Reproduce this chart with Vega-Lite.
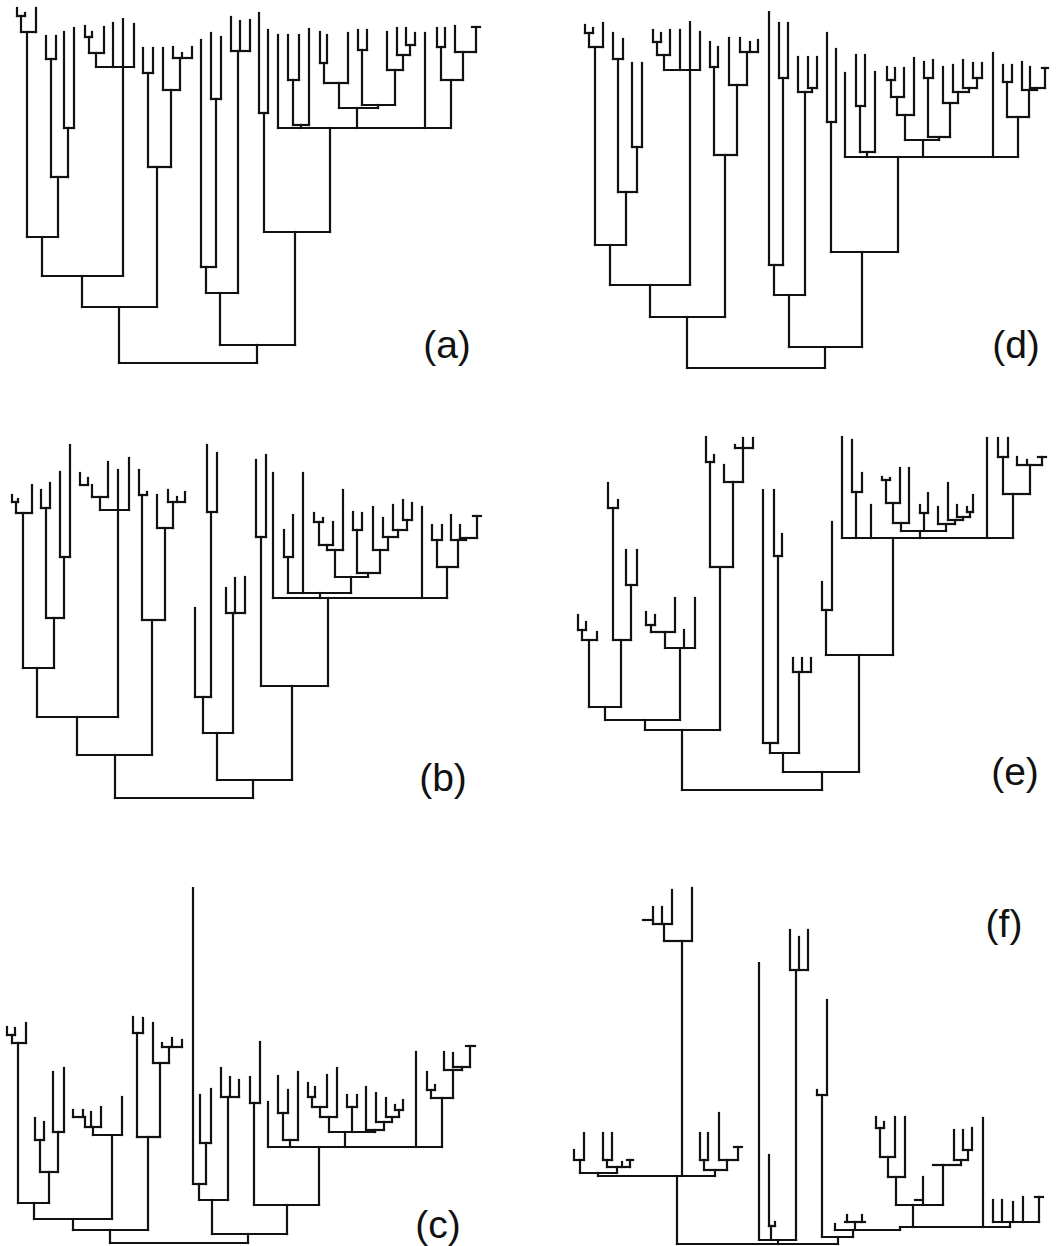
{
"$schema": "https://vega.github.io/schema/vega-lite/v6.json",
"width": 1061, "height": 1246,
"autosize": {"type": "fit", "contains": "padding"},
"padding": 0,
"background": "white",
"config": {"view": {"stroke": null}},
"datasets": {
"seg": [
{"x":17,"y":8,"x2":17,"y2":16},{"x":25,"y":13,"x2":25,"y2":16},{"x":17,"y":16,"x2":25,"y2":16},
{"x":21,"y":16,"x2":21,"y2":32},{"x":36,"y":8,"x2":36,"y2":32},{"x":21,"y":32,"x2":36,"y2":32},
{"x":27,"y":32,"x2":27,"y2":237},
{"x":46,"y":36,"x2":46,"y2":59},{"x":56,"y":36,"x2":56,"y2":59},{"x":46,"y":59,"x2":56,"y2":59},
{"x":51,"y":59,"x2":51,"y2":177},{"x":64,"y":32,"x2":64,"y2":128},{"x":74,"y":28,"x2":74,"y2":128},
{"x":64,"y":128,"x2":74,"y2":128},{"x":68,"y":128,"x2":68,"y2":177},{"x":51,"y":177,"x2":68,"y2":177},
{"x":58,"y":177,"x2":58,"y2":237},{"x":27,"y":237,"x2":58,"y2":237},{"x":42,"y":237,"x2":42,"y2":276},
{"x":85,"y":26,"x2":85,"y2":37},{"x":92,"y":32,"x2":92,"y2":37},{"x":85,"y":37,"x2":92,"y2":37},
{"x":89,"y":37,"x2":89,"y2":53},{"x":104,"y":27,"x2":104,"y2":53},{"x":89,"y":53,"x2":104,"y2":53},
{"x":96,"y":53,"x2":96,"y2":67},{"x":113,"y":23,"x2":113,"y2":67},{"x":134,"y":24,"x2":134,"y2":67},
{"x":96,"y":67,"x2":134,"y2":67},{"x":123,"y":19,"x2":123,"y2":276},{"x":42,"y":276,"x2":123,"y2":276},
{"x":82,"y":276,"x2":82,"y2":307},
{"x":143,"y":48,"x2":143,"y2":73},{"x":153,"y":48,"x2":153,"y2":73},{"x":143,"y":73,"x2":153,"y2":73},
{"x":148,"y":73,"x2":148,"y2":167},{"x":173,"y":47,"x2":173,"y2":58},{"x":182,"y":53,"x2":182,"y2":58},
{"x":192,"y":47,"x2":192,"y2":58},{"x":173,"y":58,"x2":192,"y2":58},{"x":180,"y":58,"x2":180,"y2":90},
{"x":163,"y":48,"x2":163,"y2":90},{"x":163,"y":90,"x2":180,"y2":90},{"x":171,"y":90,"x2":171,"y2":167},
{"x":148,"y":167,"x2":171,"y2":167},{"x":157,"y":167,"x2":157,"y2":307},{"x":82,"y":307,"x2":157,"y2":307},
{"x":119,"y":307,"x2":119,"y2":363},{"x":119,"y":363,"x2":257,"y2":363},{"x":257,"y":345,"x2":257,"y2":363},
{"x":201,"y":40,"x2":201,"y2":267},{"x":211,"y":33,"x2":211,"y2":99},{"x":221,"y":37,"x2":221,"y2":99},
{"x":211,"y":99,"x2":221,"y2":99},{"x":216,"y":99,"x2":216,"y2":267},{"x":201,"y":267,"x2":216,"y2":267},
{"x":206,"y":267,"x2":206,"y2":293},{"x":231,"y":17,"x2":231,"y2":51},{"x":240,"y":21,"x2":240,"y2":51},
{"x":250,"y":20,"x2":250,"y2":51},{"x":231,"y":51,"x2":250,"y2":51},{"x":238,"y":51,"x2":238,"y2":293},
{"x":206,"y":293,"x2":238,"y2":293},{"x":220,"y":293,"x2":220,"y2":345},{"x":220,"y":345,"x2":295,"y2":345},
{"x":295,"y":232,"x2":295,"y2":345},{"x":259,"y":13,"x2":259,"y2":113},{"x":268,"y":30,"x2":268,"y2":113},
{"x":259,"y":113,"x2":268,"y2":113},{"x":264,"y":113,"x2":264,"y2":232},{"x":264,"y":232,"x2":330,"y2":232},
{"x":330,"y":128,"x2":330,"y2":232},
{"x":278,"y":35,"x2":278,"y2":128},{"x":288,"y":35,"x2":288,"y2":80},{"x":299,"y":35,"x2":299,"y2":80},
{"x":288,"y":80,"x2":299,"y2":80},{"x":293,"y":80,"x2":293,"y2":125},{"x":309,"y":29,"x2":309,"y2":125},
{"x":293,"y":125,"x2":309,"y2":125},{"x":301,"y":125,"x2":301,"y2":128},
{"x":320,"y":32,"x2":320,"y2":63},{"x":327,"y":35,"x2":327,"y2":63},{"x":320,"y":63,"x2":327,"y2":63},
{"x":324,"y":63,"x2":324,"y2":83},{"x":348,"y":33,"x2":348,"y2":83},{"x":324,"y":83,"x2":348,"y2":83},
{"x":339,"y":83,"x2":339,"y2":108},{"x":358,"y":30,"x2":358,"y2":50},{"x":367,"y":30,"x2":367,"y2":50},
{"x":358,"y":50,"x2":367,"y2":50},{"x":362,"y":50,"x2":362,"y2":105},
{"x":406,"y":28,"x2":406,"y2":45},{"x":415,"y":33,"x2":415,"y2":45},{"x":406,"y":45,"x2":415,"y2":45},
{"x":410,"y":45,"x2":410,"y2":55},{"x":397,"y":28,"x2":397,"y2":55},{"x":397,"y":55,"x2":410,"y2":55},
{"x":403,"y":55,"x2":403,"y2":70},{"x":387,"y":32,"x2":387,"y2":70},{"x":387,"y":70,"x2":403,"y2":70},
{"x":395,"y":70,"x2":395,"y2":105},{"x":362,"y":105,"x2":395,"y2":105},{"x":378,"y":105,"x2":378,"y2":108},
{"x":339,"y":108,"x2":378,"y2":108},{"x":357,"y":108,"x2":357,"y2":128},
{"x":425,"y":33,"x2":425,"y2":128},{"x":437,"y":28,"x2":437,"y2":47},{"x":445,"y":28,"x2":445,"y2":47},
{"x":437,"y":47,"x2":445,"y2":47},{"x":441,"y":47,"x2":441,"y2":80},{"x":455,"y":26,"x2":455,"y2":52},
{"x":476,"y":27,"x2":476,"y2":52},{"x":472,"y":27,"x2":480,"y2":27},{"x":455,"y":52,"x2":476,"y2":52},
{"x":463,"y":52,"x2":463,"y2":80},{"x":441,"y":80,"x2":463,"y2":80},{"x":451,"y":80,"x2":451,"y2":128},
{"x":278,"y":128,"x2":451,"y2":128},

{"x":585,"y":25,"x2":585,"y2":33},{"x":593,"y":28,"x2":593,"y2":33},{"x":585,"y":33,"x2":593,"y2":33},
{"x":589,"y":33,"x2":589,"y2":47},{"x":603,"y":23,"x2":603,"y2":47},{"x":589,"y":47,"x2":603,"y2":47},
{"x":595,"y":47,"x2":595,"y2":245},{"x":613,"y":33,"x2":613,"y2":59},{"x":623,"y":39,"x2":623,"y2":59},
{"x":613,"y":59,"x2":623,"y2":59},{"x":618,"y":59,"x2":618,"y2":192},{"x":632,"y":63,"x2":632,"y2":147},
{"x":642,"y":63,"x2":642,"y2":147},{"x":632,"y":147,"x2":642,"y2":147},{"x":637,"y":147,"x2":637,"y2":192},
{"x":618,"y":192,"x2":637,"y2":192},{"x":626,"y":192,"x2":626,"y2":245},{"x":595,"y":245,"x2":626,"y2":245},
{"x":610,"y":245,"x2":610,"y2":285},
{"x":653,"y":30,"x2":653,"y2":42},{"x":661,"y":33,"x2":661,"y2":42},{"x":653,"y":42,"x2":661,"y2":42},
{"x":657,"y":42,"x2":657,"y2":55},{"x":670,"y":30,"x2":670,"y2":55},{"x":657,"y":55,"x2":670,"y2":55},
{"x":664,"y":55,"x2":664,"y2":70},{"x":680,"y":30,"x2":680,"y2":70},{"x":700,"y":32,"x2":700,"y2":70},
{"x":664,"y":70,"x2":700,"y2":70},{"x":690,"y":22,"x2":690,"y2":285},{"x":610,"y":285,"x2":690,"y2":285},
{"x":650,"y":285,"x2":650,"y2":317},
{"x":710,"y":42,"x2":710,"y2":67},{"x":718,"y":47,"x2":718,"y2":67},{"x":710,"y":67,"x2":718,"y2":67},
{"x":714,"y":67,"x2":714,"y2":155},{"x":740,"y":38,"x2":740,"y2":52},{"x":750,"y":42,"x2":750,"y2":52},
{"x":758,"y":40,"x2":758,"y2":52},{"x":740,"y":52,"x2":758,"y2":52},{"x":747,"y":52,"x2":747,"y2":85},
{"x":729,"y":38,"x2":729,"y2":85},{"x":729,"y":85,"x2":747,"y2":85},{"x":737,"y":85,"x2":737,"y2":155},
{"x":714,"y":155,"x2":737,"y2":155},{"x":725,"y":155,"x2":725,"y2":317},{"x":650,"y":317,"x2":725,"y2":317},
{"x":687,"y":317,"x2":687,"y2":368},{"x":687,"y":368,"x2":825,"y2":368},{"x":825,"y":347,"x2":825,"y2":368},
{"x":769,"y":12,"x2":769,"y2":265},{"x":779,"y":23,"x2":779,"y2":78},{"x":788,"y":23,"x2":788,"y2":78},
{"x":779,"y":78,"x2":788,"y2":78},{"x":783,"y":78,"x2":783,"y2":265},{"x":769,"y":265,"x2":783,"y2":265},
{"x":774,"y":265,"x2":774,"y2":295},{"x":798,"y":57,"x2":798,"y2":92},{"x":808,"y":57,"x2":808,"y2":88},
{"x":817,"y":57,"x2":817,"y2":88},{"x":808,"y":88,"x2":817,"y2":88},{"x":812,"y":88,"x2":812,"y2":92},
{"x":798,"y":92,"x2":812,"y2":92},{"x":805,"y":92,"x2":805,"y2":295},{"x":774,"y":295,"x2":805,"y2":295},
{"x":789,"y":295,"x2":789,"y2":347},{"x":789,"y":347,"x2":862,"y2":347},{"x":862,"y":252,"x2":862,"y2":347},
{"x":827,"y":33,"x2":827,"y2":122},{"x":836,"y":49,"x2":836,"y2":122},{"x":827,"y":122,"x2":836,"y2":122},
{"x":831,"y":122,"x2":831,"y2":252},{"x":831,"y":252,"x2":898,"y2":252},{"x":898,"y":157,"x2":898,"y2":252},
{"x":845,"y":73,"x2":845,"y2":157},{"x":856,"y":55,"x2":856,"y2":106},{"x":865,"y":55,"x2":865,"y2":106},
{"x":856,"y":106,"x2":865,"y2":106},{"x":860,"y":106,"x2":860,"y2":152},{"x":875,"y":72,"x2":875,"y2":152},
{"x":860,"y":152,"x2":875,"y2":152},{"x":867,"y":152,"x2":867,"y2":157},
{"x":887,"y":67,"x2":887,"y2":80},{"x":895,"y":68,"x2":895,"y2":80},{"x":887,"y":80,"x2":895,"y2":80},
{"x":891,"y":80,"x2":891,"y2":97},{"x":904,"y":68,"x2":904,"y2":97},{"x":891,"y":97,"x2":904,"y2":97},
{"x":897,"y":97,"x2":897,"y2":115},{"x":914,"y":58,"x2":914,"y2":115},{"x":897,"y":115,"x2":914,"y2":115},
{"x":905,"y":115,"x2":905,"y2":140},{"x":924,"y":62,"x2":924,"y2":78},{"x":933,"y":60,"x2":933,"y2":78},
{"x":924,"y":78,"x2":933,"y2":78},{"x":928,"y":78,"x2":928,"y2":137},
{"x":973,"y":63,"x2":973,"y2":78},{"x":982,"y":63,"x2":982,"y2":78},{"x":973,"y":78,"x2":982,"y2":78},
{"x":977,"y":78,"x2":977,"y2":88},{"x":963,"y":60,"x2":963,"y2":88},{"x":963,"y":88,"x2":977,"y2":88},
{"x":969,"y":88,"x2":969,"y2":92},{"x":953,"y":65,"x2":953,"y2":92},{"x":953,"y":92,"x2":969,"y2":92},
{"x":958,"y":92,"x2":958,"y2":103},{"x":943,"y":67,"x2":943,"y2":103},{"x":943,"y":103,"x2":958,"y2":103},
{"x":950,"y":103,"x2":950,"y2":137},{"x":928,"y":137,"x2":950,"y2":137},{"x":939,"y":137,"x2":939,"y2":140},
{"x":905,"y":140,"x2":939,"y2":140},{"x":923,"y":140,"x2":923,"y2":157},
{"x":993,"y":53,"x2":993,"y2":157},{"x":1003,"y":65,"x2":1003,"y2":82},{"x":1012,"y":65,"x2":1012,"y2":82},
{"x":1003,"y":82,"x2":1012,"y2":82},{"x":1007,"y":82,"x2":1007,"y2":117},{"x":1022,"y":62,"x2":1022,"y2":90},
{"x":1030,"y":67,"x2":1030,"y2":88},{"x":1045,"y":68,"x2":1045,"y2":88},{"x":1042,"y":68,"x2":1048,"y2":68},
{"x":1030,"y":88,"x2":1045,"y2":88},{"x":1037,"y":88,"x2":1037,"y2":90},{"x":1022,"y":90,"x2":1037,"y2":90},
{"x":1029,"y":90,"x2":1029,"y2":117},{"x":1007,"y":117,"x2":1029,"y2":117},{"x":1018,"y":117,"x2":1018,"y2":157},
{"x":845,"y":157,"x2":1018,"y2":157},

{"x":12,"y":495,"x2":12,"y2":502},{"x":18,"y":499,"x2":18,"y2":502},{"x":12,"y":502,"x2":18,"y2":502},
{"x":16,"y":502,"x2":16,"y2":513},{"x":32,"y":485,"x2":32,"y2":513},{"x":16,"y":513,"x2":32,"y2":513},
{"x":23,"y":513,"x2":23,"y2":668},{"x":41,"y":490,"x2":41,"y2":508},{"x":50,"y":483,"x2":50,"y2":508},
{"x":41,"y":508,"x2":50,"y2":508},{"x":46,"y":508,"x2":46,"y2":618},{"x":60,"y":472,"x2":60,"y2":557},
{"x":70,"y":445,"x2":70,"y2":557},{"x":60,"y":557,"x2":70,"y2":557},{"x":64,"y":557,"x2":64,"y2":618},
{"x":46,"y":618,"x2":64,"y2":618},{"x":54,"y":618,"x2":54,"y2":668},{"x":23,"y":668,"x2":54,"y2":668},
{"x":37,"y":668,"x2":37,"y2":717},
{"x":80,"y":473,"x2":80,"y2":485},{"x":88,"y":478,"x2":88,"y2":485},{"x":80,"y":485,"x2":88,"y2":485},
{"x":92,"y":485,"x2":92,"y2":497},{"x":108,"y":462,"x2":108,"y2":497},{"x":92,"y":497,"x2":108,"y2":497},
{"x":100,"y":497,"x2":100,"y2":510},{"x":118,"y":470,"x2":118,"y2":717},{"x":129,"y":458,"x2":129,"y2":510},
{"x":100,"y":510,"x2":129,"y2":510},{"x":37,"y":717,"x2":118,"y2":717},{"x":77,"y":717,"x2":77,"y2":755},
{"x":139,"y":470,"x2":139,"y2":495},{"x":147,"y":492,"x2":147,"y2":495},{"x":139,"y":495,"x2":147,"y2":495},
{"x":142,"y":495,"x2":142,"y2":620},{"x":157,"y":495,"x2":157,"y2":528},{"x":168,"y":490,"x2":168,"y2":502},
{"x":177,"y":497,"x2":177,"y2":502},{"x":185,"y":492,"x2":185,"y2":502},{"x":168,"y":502,"x2":185,"y2":502},
{"x":173,"y":502,"x2":173,"y2":528},{"x":157,"y":528,"x2":173,"y2":528},{"x":165,"y":528,"x2":165,"y2":620},
{"x":142,"y":620,"x2":165,"y2":620},{"x":152,"y":620,"x2":152,"y2":755},{"x":77,"y":755,"x2":152,"y2":755},
{"x":115,"y":755,"x2":115,"y2":798},{"x":115,"y":798,"x2":253,"y2":798},{"x":253,"y":780,"x2":253,"y2":798},
{"x":195,"y":608,"x2":195,"y2":697},{"x":207,"y":445,"x2":207,"y2":512},{"x":217,"y":453,"x2":217,"y2":512},
{"x":207,"y":512,"x2":217,"y2":512},{"x":211,"y":512,"x2":211,"y2":697},{"x":195,"y":697,"x2":211,"y2":697},
{"x":203,"y":697,"x2":203,"y2":733},{"x":226,"y":588,"x2":226,"y2":613},{"x":235,"y":578,"x2":235,"y2":613},
{"x":245,"y":577,"x2":245,"y2":613},{"x":226,"y":613,"x2":245,"y2":613},{"x":233,"y":613,"x2":233,"y2":733},
{"x":203,"y":733,"x2":233,"y2":733},{"x":217,"y":733,"x2":217,"y2":780},{"x":217,"y":780,"x2":292,"y2":780},
{"x":292,"y":686,"x2":292,"y2":780},{"x":256,"y":460,"x2":256,"y2":537},{"x":266,"y":455,"x2":266,"y2":537},
{"x":256,"y":537,"x2":266,"y2":537},{"x":261,"y":537,"x2":261,"y2":686},{"x":261,"y":686,"x2":328,"y2":686},
{"x":328,"y":598,"x2":328,"y2":686},
{"x":273,"y":473,"x2":273,"y2":598},{"x":284,"y":530,"x2":284,"y2":557},{"x":293,"y":515,"x2":293,"y2":557},
{"x":284,"y":557,"x2":293,"y2":557},{"x":288,"y":557,"x2":288,"y2":593},{"x":303,"y":473,"x2":303,"y2":593},
{"x":314,"y":513,"x2":314,"y2":522},{"x":323,"y":518,"x2":323,"y2":522},{"x":314,"y":522,"x2":323,"y2":522},
{"x":319,"y":522,"x2":319,"y2":545},{"x":333,"y":522,"x2":333,"y2":545},{"x":319,"y":545,"x2":333,"y2":545},
{"x":327,"y":545,"x2":327,"y2":550},{"x":343,"y":490,"x2":343,"y2":550},{"x":327,"y":550,"x2":343,"y2":550},
{"x":335,"y":550,"x2":335,"y2":577},{"x":353,"y":512,"x2":353,"y2":530},{"x":362,"y":513,"x2":362,"y2":530},
{"x":353,"y":530,"x2":362,"y2":530},{"x":357,"y":530,"x2":357,"y2":573},
{"x":403,"y":500,"x2":403,"y2":520},{"x":412,"y":503,"x2":412,"y2":520},{"x":403,"y":520,"x2":412,"y2":520},
{"x":407,"y":520,"x2":407,"y2":530},{"x":393,"y":505,"x2":393,"y2":530},{"x":393,"y":530,"x2":407,"y2":530},
{"x":398,"y":530,"x2":398,"y2":537},{"x":383,"y":518,"x2":383,"y2":537},{"x":383,"y":537,"x2":398,"y2":537},
{"x":388,"y":537,"x2":388,"y2":550},{"x":373,"y":507,"x2":373,"y2":550},{"x":373,"y":550,"x2":388,"y2":550},
{"x":380,"y":550,"x2":380,"y2":573},{"x":357,"y":573,"x2":380,"y2":573},{"x":368,"y":573,"x2":368,"y2":577},
{"x":335,"y":577,"x2":368,"y2":577},{"x":351,"y":577,"x2":351,"y2":593},{"x":288,"y":593,"x2":351,"y2":593},
{"x":320,"y":593,"x2":320,"y2":598},
{"x":422,"y":507,"x2":422,"y2":598},{"x":432,"y":525,"x2":432,"y2":540},{"x":442,"y":525,"x2":442,"y2":540},
{"x":432,"y":540,"x2":442,"y2":540},{"x":437,"y":540,"x2":437,"y2":567},{"x":451,"y":515,"x2":451,"y2":540},
{"x":460,"y":525,"x2":460,"y2":538},{"x":477,"y":516,"x2":477,"y2":538},{"x":473,"y":516,"x2":481,"y2":516},
{"x":460,"y":538,"x2":477,"y2":538},{"x":466,"y":538,"x2":466,"y2":540},{"x":451,"y":540,"x2":466,"y2":540},
{"x":458,"y":540,"x2":458,"y2":567},{"x":437,"y":567,"x2":458,"y2":567},{"x":447,"y":567,"x2":447,"y2":598},
{"x":273,"y":598,"x2":447,"y2":598},

{"x":578,"y":615,"x2":578,"y2":630},{"x":586,"y":622,"x2":586,"y2":630},{"x":578,"y":630,"x2":586,"y2":630},
{"x":582,"y":630,"x2":582,"y2":640},{"x":597,"y":632,"x2":597,"y2":640},{"x":582,"y":640,"x2":597,"y2":640},
{"x":589,"y":640,"x2":589,"y2":707},{"x":608,"y":483,"x2":608,"y2":508},{"x":618,"y":500,"x2":618,"y2":508},
{"x":608,"y":508,"x2":618,"y2":508},{"x":613,"y":508,"x2":613,"y2":640},{"x":626,"y":550,"x2":626,"y2":585},
{"x":637,"y":550,"x2":637,"y2":585},{"x":626,"y":585,"x2":637,"y2":585},{"x":631,"y":585,"x2":631,"y2":640},
{"x":613,"y":640,"x2":631,"y2":640},{"x":621,"y":640,"x2":621,"y2":707},{"x":589,"y":707,"x2":621,"y2":707},
{"x":605,"y":707,"x2":605,"y2":720},
{"x":646,"y":612,"x2":646,"y2":625},{"x":655,"y":615,"x2":655,"y2":625},{"x":646,"y":625,"x2":655,"y2":625},
{"x":651,"y":625,"x2":651,"y2":632},{"x":675,"y":598,"x2":675,"y2":632},{"x":651,"y":632,"x2":675,"y2":632},
{"x":665,"y":632,"x2":665,"y2":648},{"x":684,"y":630,"x2":684,"y2":648},{"x":695,"y":598,"x2":695,"y2":648},
{"x":665,"y":648,"x2":695,"y2":648},{"x":680,"y":648,"x2":680,"y2":720},{"x":605,"y":720,"x2":680,"y2":720},
{"x":645,"y":720,"x2":645,"y2":730},
{"x":706,"y":437,"x2":706,"y2":462},{"x":714,"y":455,"x2":714,"y2":462},{"x":706,"y":462,"x2":714,"y2":462},
{"x":710,"y":462,"x2":710,"y2":567},{"x":735,"y":445,"x2":735,"y2":448},{"x":743,"y":438,"x2":743,"y2":448},
{"x":753,"y":438,"x2":753,"y2":448},{"x":735,"y":448,"x2":753,"y2":448},{"x":743,"y":448,"x2":743,"y2":482},
{"x":724,"y":465,"x2":724,"y2":482},{"x":724,"y":482,"x2":743,"y2":482},{"x":733,"y":482,"x2":733,"y2":567},
{"x":710,"y":567,"x2":733,"y2":567},{"x":720,"y":567,"x2":720,"y2":730},{"x":645,"y":730,"x2":720,"y2":730},
{"x":682,"y":730,"x2":682,"y2":790},{"x":682,"y":790,"x2":822,"y2":790},{"x":822,"y":772,"x2":822,"y2":790},
{"x":763,"y":490,"x2":763,"y2":743},{"x":774,"y":490,"x2":774,"y2":556},{"x":782,"y":534,"x2":782,"y2":556},
{"x":774,"y":556,"x2":782,"y2":556},{"x":778,"y":556,"x2":778,"y2":743},{"x":763,"y":743,"x2":778,"y2":743},
{"x":770,"y":743,"x2":770,"y2":753},{"x":793,"y":658,"x2":793,"y2":672},{"x":802,"y":658,"x2":802,"y2":672},
{"x":811,"y":658,"x2":811,"y2":672},{"x":793,"y":672,"x2":811,"y2":672},{"x":799,"y":672,"x2":799,"y2":753},
{"x":770,"y":753,"x2":799,"y2":753},{"x":783,"y":753,"x2":783,"y2":772},{"x":783,"y":772,"x2":859,"y2":772},
{"x":859,"y":655,"x2":859,"y2":772},{"x":822,"y":582,"x2":822,"y2":610},{"x":832,"y":522,"x2":832,"y2":610},
{"x":822,"y":610,"x2":832,"y2":610},{"x":826,"y":610,"x2":826,"y2":655},{"x":826,"y":655,"x2":893,"y2":655},
{"x":893,"y":538,"x2":893,"y2":655},
{"x":842,"y":437,"x2":842,"y2":538},{"x":852,"y":440,"x2":852,"y2":492},{"x":862,"y":473,"x2":862,"y2":492},
{"x":852,"y":492,"x2":862,"y2":492},{"x":856,"y":492,"x2":856,"y2":538},{"x":871,"y":505,"x2":871,"y2":538},
{"x":882,"y":477,"x2":882,"y2":480},{"x":890,"y":478,"x2":890,"y2":480},{"x":882,"y":480,"x2":890,"y2":480},
{"x":886,"y":480,"x2":886,"y2":503},{"x":900,"y":468,"x2":900,"y2":503},{"x":886,"y":503,"x2":900,"y2":503},
{"x":893,"y":503,"x2":893,"y2":523},{"x":909,"y":468,"x2":909,"y2":523},{"x":893,"y":523,"x2":909,"y2":523},
{"x":901,"y":523,"x2":901,"y2":531},{"x":920,"y":505,"x2":920,"y2":513},{"x":928,"y":493,"x2":928,"y2":513},
{"x":920,"y":513,"x2":928,"y2":513},{"x":924,"y":513,"x2":924,"y2":531},
{"x":967,"y":507,"x2":967,"y2":512},{"x":973,"y":495,"x2":973,"y2":512},{"x":967,"y":512,"x2":973,"y2":512},
{"x":970,"y":512,"x2":970,"y2":517},{"x":957,"y":505,"x2":957,"y2":517},{"x":957,"y":517,"x2":970,"y2":517},
{"x":963,"y":517,"x2":963,"y2":520},{"x":948,"y":483,"x2":948,"y2":520},{"x":948,"y":520,"x2":963,"y2":520},
{"x":955,"y":520,"x2":955,"y2":524},{"x":938,"y":507,"x2":938,"y2":524},{"x":938,"y":524,"x2":955,"y2":524},
{"x":946,"y":524,"x2":946,"y2":531},{"x":901,"y":531,"x2":946,"y2":531},{"x":920,"y":531,"x2":920,"y2":538},
{"x":987,"y":438,"x2":987,"y2":538},{"x":998,"y":438,"x2":998,"y2":457},{"x":1008,"y":438,"x2":1008,"y2":457},
{"x":998,"y":457,"x2":1008,"y2":457},{"x":1003,"y":457,"x2":1003,"y2":494},{"x":1017,"y":457,"x2":1017,"y2":465},
{"x":1027,"y":460,"x2":1027,"y2":465},{"x":1042,"y":457,"x2":1042,"y2":465},{"x":1038,"y":457,"x2":1046,"y2":457},
{"x":1017,"y":465,"x2":1042,"y2":465},{"x":1030,"y":465,"x2":1030,"y2":494},{"x":1003,"y":494,"x2":1030,"y2":494},
{"x":1013,"y":494,"x2":1013,"y2":538},{"x":842,"y":538,"x2":1013,"y2":538},

{"x":7,"y":1027,"x2":7,"y2":1035},{"x":15,"y":1028,"x2":15,"y2":1035},{"x":7,"y":1035,"x2":15,"y2":1035},
{"x":12,"y":1035,"x2":12,"y2":1043},{"x":26,"y":1023,"x2":26,"y2":1043},{"x":12,"y":1043,"x2":26,"y2":1043},
{"x":18,"y":1043,"x2":18,"y2":1203},{"x":35,"y":1118,"x2":35,"y2":1140},{"x":44,"y":1122,"x2":44,"y2":1140},
{"x":35,"y":1140,"x2":44,"y2":1140},{"x":40,"y":1140,"x2":40,"y2":1172},{"x":53,"y":1072,"x2":53,"y2":1132},
{"x":64,"y":1068,"x2":64,"y2":1132},{"x":53,"y":1132,"x2":64,"y2":1132},{"x":58,"y":1132,"x2":58,"y2":1172},
{"x":40,"y":1172,"x2":58,"y2":1172},{"x":49,"y":1172,"x2":49,"y2":1203},{"x":18,"y":1203,"x2":49,"y2":1203},
{"x":34,"y":1203,"x2":34,"y2":1219},
{"x":73,"y":1110,"x2":73,"y2":1117},{"x":83,"y":1110,"x2":83,"y2":1117},{"x":73,"y":1117,"x2":85,"y2":1117},
{"x":85,"y":1117,"x2":85,"y2":1127},{"x":91,"y":1112,"x2":91,"y2":1127},{"x":101,"y":1107,"x2":101,"y2":1127},
{"x":85,"y":1127,"x2":101,"y2":1127},{"x":93,"y":1127,"x2":93,"y2":1135},{"x":122,"y":1097,"x2":122,"y2":1135},
{"x":93,"y":1135,"x2":122,"y2":1135},{"x":112,"y":1135,"x2":112,"y2":1219},{"x":34,"y":1219,"x2":112,"y2":1219},
{"x":73,"y":1219,"x2":73,"y2":1230},
{"x":133,"y":1017,"x2":133,"y2":1033},{"x":143,"y":1018,"x2":143,"y2":1033},{"x":133,"y":1033,"x2":143,"y2":1033},
{"x":137,"y":1033,"x2":137,"y2":1137},{"x":153,"y":1023,"x2":153,"y2":1063},{"x":162,"y":1043,"x2":162,"y2":1047},
{"x":172,"y":1038,"x2":172,"y2":1047},{"x":182,"y":1040,"x2":182,"y2":1047},{"x":162,"y":1047,"x2":182,"y2":1047},
{"x":169,"y":1047,"x2":169,"y2":1063},{"x":153,"y":1063,"x2":169,"y2":1063},{"x":160,"y":1063,"x2":160,"y2":1137},
{"x":137,"y":1137,"x2":160,"y2":1137},{"x":148,"y":1137,"x2":148,"y2":1230},{"x":73,"y":1230,"x2":148,"y2":1230},
{"x":110,"y":1230,"x2":110,"y2":1243},{"x":110,"y":1243,"x2":248,"y2":1243},{"x":248,"y":1234,"x2":248,"y2":1243},
{"x":193,"y":888,"x2":193,"y2":1184},{"x":200,"y":1095,"x2":200,"y2":1143},{"x":211,"y":1089,"x2":211,"y2":1143},
{"x":200,"y":1143,"x2":211,"y2":1143},{"x":206,"y":1143,"x2":206,"y2":1184},{"x":193,"y":1184,"x2":206,"y2":1184},
{"x":199,"y":1184,"x2":199,"y2":1200},{"x":221,"y":1068,"x2":221,"y2":1097},{"x":230,"y":1077,"x2":230,"y2":1097},
{"x":239,"y":1080,"x2":239,"y2":1097},{"x":221,"y":1097,"x2":239,"y2":1097},{"x":228,"y":1097,"x2":228,"y2":1200},
{"x":199,"y":1200,"x2":228,"y2":1200},{"x":212,"y":1200,"x2":212,"y2":1234},{"x":212,"y":1234,"x2":287,"y2":1234},
{"x":287,"y":1205,"x2":287,"y2":1234},{"x":250,"y":1077,"x2":250,"y2":1103},{"x":260,"y":1042,"x2":260,"y2":1103},
{"x":250,"y":1103,"x2":260,"y2":1103},{"x":254,"y":1103,"x2":254,"y2":1205},{"x":254,"y":1205,"x2":319,"y2":1205},
{"x":319,"y":1147,"x2":319,"y2":1205},
{"x":268,"y":1102,"x2":268,"y2":1147},{"x":278,"y":1076,"x2":278,"y2":1113},{"x":288,"y":1090,"x2":288,"y2":1113},
{"x":278,"y":1113,"x2":288,"y2":1113},{"x":283,"y":1113,"x2":283,"y2":1140},{"x":298,"y":1072,"x2":298,"y2":1140},
{"x":283,"y":1140,"x2":298,"y2":1140},{"x":290,"y":1140,"x2":290,"y2":1147},
{"x":308,"y":1083,"x2":308,"y2":1097},{"x":315,"y":1087,"x2":315,"y2":1097},{"x":308,"y":1097,"x2":315,"y2":1097},
{"x":312,"y":1097,"x2":312,"y2":1107},{"x":327,"y":1075,"x2":327,"y2":1107},{"x":312,"y":1107,"x2":327,"y2":1107},
{"x":320,"y":1107,"x2":320,"y2":1117},{"x":337,"y":1068,"x2":337,"y2":1117},{"x":320,"y":1117,"x2":337,"y2":1117},
{"x":329,"y":1117,"x2":329,"y2":1132},{"x":347,"y":1095,"x2":347,"y2":1107},{"x":357,"y":1095,"x2":357,"y2":1107},
{"x":347,"y":1107,"x2":357,"y2":1107},{"x":352,"y":1107,"x2":352,"y2":1132},
{"x":395,"y":1105,"x2":395,"y2":1110},{"x":403,"y":1100,"x2":403,"y2":1110},{"x":395,"y":1110,"x2":403,"y2":1110},
{"x":399,"y":1110,"x2":399,"y2":1117},{"x":386,"y":1098,"x2":386,"y2":1117},{"x":386,"y":1117,"x2":399,"y2":1117},
{"x":392,"y":1117,"x2":392,"y2":1122},{"x":376,"y":1093,"x2":376,"y2":1122},{"x":376,"y":1122,"x2":392,"y2":1122},
{"x":384,"y":1122,"x2":384,"y2":1130},{"x":366,"y":1087,"x2":366,"y2":1130},{"x":366,"y":1130,"x2":384,"y2":1130},
{"x":375,"y":1130,"x2":375,"y2":1132},{"x":329,"y":1132,"x2":375,"y2":1132},{"x":345,"y":1132,"x2":345,"y2":1147},
{"x":416,"y":1052,"x2":416,"y2":1147},{"x":427,"y":1072,"x2":427,"y2":1090},{"x":435,"y":1085,"x2":435,"y2":1090},
{"x":427,"y":1090,"x2":435,"y2":1090},{"x":431,"y":1090,"x2":431,"y2":1098},{"x":444,"y":1052,"x2":444,"y2":1070},
{"x":453,"y":1053,"x2":453,"y2":1067},{"x":470,"y":1046,"x2":470,"y2":1067},{"x":466,"y":1046,"x2":475,"y2":1046},
{"x":453,"y":1067,"x2":470,"y2":1067},{"x":462,"y":1067,"x2":462,"y2":1070},{"x":444,"y":1070,"x2":462,"y2":1070},
{"x":453,"y":1070,"x2":453,"y2":1098},{"x":431,"y":1098,"x2":453,"y2":1098},{"x":442,"y":1098,"x2":442,"y2":1147},
{"x":268,"y":1147,"x2":442,"y2":1147},

{"x":643,"y":920,"x2":653,"y2":920},{"x":653,"y":907,"x2":653,"y2":924},{"x":662,"y":907,"x2":662,"y2":924},
{"x":672,"y":890,"x2":672,"y2":924},{"x":653,"y":924,"x2":672,"y2":924},{"x":664,"y":924,"x2":664,"y2":941},
{"x":692,"y":888,"x2":692,"y2":941},{"x":664,"y":941,"x2":692,"y2":941},{"x":682,"y":941,"x2":682,"y2":1176},
{"x":574,"y":1150,"x2":574,"y2":1160},{"x":584,"y":1133,"x2":584,"y2":1160},{"x":574,"y":1160,"x2":584,"y2":1160},
{"x":580,"y":1160,"x2":580,"y2":1173},{"x":603,"y":1133,"x2":603,"y2":1160},{"x":612,"y":1133,"x2":612,"y2":1160},
{"x":603,"y":1160,"x2":612,"y2":1160},{"x":607,"y":1160,"x2":607,"y2":1167},{"x":622,"y":1162,"x2":622,"y2":1167},
{"x":630,"y":1160,"x2":630,"y2":1167},{"x":627,"y":1160,"x2":633,"y2":1160},{"x":607,"y":1167,"x2":630,"y2":1167},
{"x":617,"y":1167,"x2":617,"y2":1173},{"x":580,"y":1173,"x2":617,"y2":1173},{"x":598,"y":1173,"x2":598,"y2":1176},
{"x":700,"y":1133,"x2":700,"y2":1160},{"x":708,"y":1133,"x2":708,"y2":1160},{"x":700,"y":1160,"x2":708,"y2":1160},
{"x":704,"y":1160,"x2":704,"y2":1170},{"x":719,"y":1113,"x2":719,"y2":1160},{"x":738,"y":1147,"x2":738,"y2":1160},
{"x":734,"y":1147,"x2":742,"y2":1147},{"x":719,"y":1160,"x2":738,"y2":1160},{"x":727,"y":1160,"x2":727,"y2":1170},
{"x":704,"y":1170,"x2":727,"y2":1170},{"x":715,"y":1170,"x2":715,"y2":1176},{"x":598,"y":1176,"x2":715,"y2":1176},
{"x":677,"y":1176,"x2":677,"y2":1244},
{"x":759,"y":963,"x2":759,"y2":1240},{"x":769,"y":1155,"x2":769,"y2":1226},{"x":775,"y":1222,"x2":775,"y2":1226},
{"x":769,"y":1226,"x2":775,"y2":1226},{"x":771,"y":1226,"x2":771,"y2":1240},{"x":790,"y":930,"x2":790,"y2":970},
{"x":799,"y":937,"x2":799,"y2":970},{"x":808,"y":930,"x2":808,"y2":970},{"x":790,"y":970,"x2":808,"y2":970},
{"x":796,"y":970,"x2":796,"y2":1240},{"x":759,"y":1240,"x2":796,"y2":1240},{"x":778,"y":1240,"x2":778,"y2":1244},
{"x":827,"y":1000,"x2":827,"y2":1095},{"x":817,"y":1090,"x2":817,"y2":1095},{"x":817,"y":1095,"x2":827,"y2":1095},
{"x":822,"y":1095,"x2":822,"y2":1237},
{"x":876,"y":1117,"x2":876,"y2":1128},{"x":884,"y":1122,"x2":884,"y2":1128},{"x":876,"y":1128,"x2":884,"y2":1128},
{"x":880,"y":1128,"x2":880,"y2":1157},{"x":895,"y":1117,"x2":895,"y2":1157},{"x":880,"y":1157,"x2":895,"y2":1157},
{"x":888,"y":1157,"x2":888,"y2":1177},{"x":905,"y":1117,"x2":905,"y2":1177},{"x":888,"y":1177,"x2":905,"y2":1177},
{"x":896,"y":1177,"x2":896,"y2":1205},{"x":923,"y":1177,"x2":923,"y2":1205},{"x":915,"y":1200,"x2":923,"y2":1200},
{"x":954,"y":1130,"x2":954,"y2":1160},{"x":963,"y":1130,"x2":963,"y2":1150},{"x":972,"y":1128,"x2":972,"y2":1150},
{"x":963,"y":1150,"x2":972,"y2":1150},{"x":968,"y":1150,"x2":968,"y2":1160},{"x":954,"y":1160,"x2":968,"y2":1160},
{"x":961,"y":1160,"x2":961,"y2":1165},{"x":933,"y":1165,"x2":961,"y2":1165},{"x":943,"y":1165,"x2":943,"y2":1205},
{"x":896,"y":1205,"x2":943,"y2":1205},{"x":913,"y":1205,"x2":913,"y2":1227},{"x":983,"y":1118,"x2":983,"y2":1227},
{"x":993,"y":1200,"x2":993,"y2":1222},{"x":1002,"y":1200,"x2":1002,"y2":1222},{"x":1013,"y":1202,"x2":1013,"y2":1222},
{"x":1023,"y":1197,"x2":1023,"y2":1222},{"x":1039,"y":1197,"x2":1039,"y2":1222},{"x":1035,"y":1197,"x2":1043,"y2":1197},
{"x":993,"y":1222,"x2":1039,"y2":1222},{"x":1010,"y":1222,"x2":1010,"y2":1227},{"x":900,"y":1227,"x2":1010,"y2":1227},
{"x":900,"y":1227,"x2":900,"y2":1230},{"x":847,"y":1215,"x2":847,"y2":1222},{"x":862,"y":1215,"x2":862,"y2":1222},
{"x":845,"y":1222,"x2":865,"y2":1222},{"x":855,"y":1222,"x2":855,"y2":1230},{"x":835,"y":1224,"x2":835,"y2":1230},
{"x":835,"y":1230,"x2":900,"y2":1230},{"x":853,"y":1230,"x2":853,"y2":1237},{"x":822,"y":1237,"x2":853,"y2":1237},
{"x":838,"y":1237,"x2":838,"y2":1244},{"x":677,"y":1244,"x2":838,"y2":1244}
],
"lab": [
{"label":"(a)","x":447,"y":346},
{"label":"(d)","x":1016,"y":346},
{"label":"(b)","x":443,"y":779},
{"label":"(e)","x":1015,"y":773},
{"label":"(c)","x":438,"y":1226},
{"label":"(f)","x":1004,"y":925}
]
},
"layer": [
{
"data": {"name": "seg"},
"mark": {"type": "rule", "color": "#111111", "strokeWidth": 2.2, "strokeCap": "square"},
"encoding": {
"x": {"field": "x", "type": "quantitative", "scale": {"domain": [0, 1061], "nice": false, "zero": false}, "axis": null},
"y": {"field": "y", "type": "quantitative", "scale": {"domain": [0, 1246], "nice": false, "zero": false, "reverse": true}, "axis": null},
"x2": {"field": "x2"},
"y2": {"field": "y2"}
}
},
{
"data": {"name": "lab"},
"mark": {"type": "text", "font": "Liberation Sans", "fontSize": 39, "align": "center", "baseline": "middle", "color": "#111111"},
"encoding": {
"x": {"field": "x", "type": "quantitative"},
"y": {"field": "y", "type": "quantitative"},
"text": {"field": "label"}
}
}
]
}
